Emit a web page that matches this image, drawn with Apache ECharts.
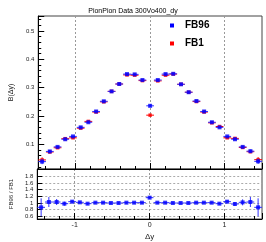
<!DOCTYPE html>
<html>
<head>
<meta charset="utf-8">
<script src="https://cdn.jsdelivr.net/npm/echarts@6/dist/echarts.min.js"></script>
<style>
html,body{margin:0;padding:0;background:#fff;}
#c{width:266px;height:242px;}
</style>
</head>
<body>
<div id="c"></div>
<script>
// Bin centres in Δy (29 bins over [-1.5, 1.5])
var binCenters = [-1.448,-1.345,-1.241,-1.138,-1.034,-0.931,-0.828,-0.724,-0.621,-0.517,-0.414,-0.310,-0.207,-0.103,0.000,
                  0.103,0.207,0.310,0.414,0.517,0.621,0.724,0.828,0.931,1.034,1.138,1.241,1.345,1.448];
var binHalfWidth = 0.0517;

var fb96 = [0.039,0.075,0.091,0.118,0.128,0.160,0.178,0.216,0.252,0.287,0.313,0.348,0.347,0.327,0.236,
            0.327,0.348,0.349,0.312,0.284,0.253,0.216,0.178,0.160,0.128,0.118,0.091,0.076,0.040];
var fb96Err = [0.009,0.005,0.004,0.004,0.003,0.003,0.003,0.003,0.003,0.003,0.003,0.003,0.003,0.003,0.004,
               0.003,0.003,0.003,0.003,0.003,0.003,0.003,0.003,0.003,0.003,0.004,0.004,0.005,0.009];

var fb1 = [0.045,0.073,0.088,0.120,0.123,0.157,0.181,0.214,0.250,0.287,0.313,0.345,0.344,0.325,0.203,
           0.324,0.344,0.348,0.312,0.284,0.251,0.214,0.176,0.163,0.123,0.121,0.089,0.074,0.046];
var fb1Err = [0.009,0.005,0.004,0.004,0.003,0.003,0.003,0.003,0.003,0.003,0.003,0.003,0.003,0.003,0.004,
              0.003,0.003,0.003,0.003,0.003,0.003,0.003,0.003,0.003,0.003,0.004,0.004,0.005,0.009];

var ratio = [0.87,1.03,1.03,0.98,1.04,1.02,0.98,1.01,1.01,1.00,1.00,1.01,1.01,1.01,1.16,
             1.01,1.01,1.00,1.00,1.00,1.01,1.01,1.01,0.98,1.04,0.97,1.02,1.03,0.87];
var ratioErr = [0.27,0.15,0.09,0.06,0.045,0.035,0.03,0.025,0.022,0.02,0.02,0.02,0.02,0.02,0.03,
                0.02,0.02,0.02,0.02,0.02,0.022,0.025,0.03,0.035,0.045,0.06,0.09,0.15,0.27];

var titleText = 'PionPion Data 300Vo400_dy';

function rows(vals, errs){
  return binCenters.map(function(x,i){ return [x, vals[i], errs[i], binHalfWidth]; });
}
function errRender(color){
  return function(params, api){
    var x = api.value(0), y = api.value(1), e = api.value(2), hw = api.value(3);
    var l = api.coord([x - hw, y]), r = api.coord([x + hw, y]);
    var t = api.coord([x, y + e]), b = api.coord([x, y - e]);
    var st = {stroke: color, lineWidth: 1};
    return {type:'group', children:[
      {type:'line', shape:{x1:l[0], y1:l[1], x2:r[0], y2:r[1]}, style:st},
      {type:'line', shape:{x1:t[0], y1:t[1], x2:b[0], y2:b[1]}, style:st}
    ]};
  };
}

var font = 'Liberation Sans, Arial, sans-serif';
var chart = echarts.init(document.getElementById('c'), null, {renderer:'canvas'});

function xAx(idx, showLabels){
  return {
    type:'value', gridIndex: idx, min:-1.5, max:1.5, splitNumber:3,
    axisLine:{show:true, onZero:false, lineStyle:{color:'#000', width:1}},
    axisTick:{show:true, inside:true, length:6, lineStyle:{color:'#000'}},
    minorTick:{show:true, splitNumber:5, length:3, lineStyle:{color:'#000'}},
    splitLine:{show:true, showMinLine:false, showMaxLine:false, lineStyle:{color:'#999', type:[2,2], width:1}},
    axisLabel:{show:showLabels, showMinLabel:false, showMaxLabel:false, fontSize:7, color:'#222', margin:3, fontFamily:font},
    name: showLabels ? 'Δy' : '', nameLocation:'middle', nameGap:14,
    nameTextStyle:{fontSize:8, color:'#222', fontFamily:font}
  };
}

var option = {
  animation:false,
  backgroundColor:'#fff',
  title:{text:titleText, left:'center', top:3, textStyle:{fontSize:7, fontWeight:'normal', color:'#000', fontFamily:font}},
  legend:{
    orient:'vertical', left:170, top:20, padding:0, itemWidth:4, itemHeight:4, itemGap:7,
    icon:'rect', data:['FB96','FB1'],
    textStyle:{fontSize:10, fontWeight:'bold', color:'#000', fontFamily:font, lineHeight:11, padding:[0,0,0,6]}
  },
  grid:[
    {left:26, right:4, top:16, height:153, show:true, borderColor:'#444', borderWidth:1},
    {left:26, right:4, top:169, height:51, show:true, borderColor:'#444', borderWidth:1}
  ],
  xAxis:[ xAx(0,false), xAx(1,true) ],
  yAxis:[
    {type:'value', gridIndex:0, min:0.013, max:0.553, splitNumber:5,
     axisLine:{show:true, onZero:false, lineStyle:{color:'#000'}},
     axisTick:{show:true, inside:true, length:6, lineStyle:{color:'#000'}},
     minorTick:{show:true, splitNumber:5, length:3, lineStyle:{color:'#000'}},
     splitLine:{show:false},
     axisLabel:{showMinLabel:false, showMaxLabel:false, fontSize:6, color:'#222', margin:4, fontFamily:font},
     name:'B(Δy)', nameLocation:'middle', nameGap:15,
     nameTextStyle:{fontSize:7, color:'#222', fontFamily:font}},
    {type:'value', gridIndex:1, min:0.52, max:2.02, splitNumber:7,
     axisLine:{show:true, onZero:false, lineStyle:{color:'#000'}},
     axisTick:{show:true, inside:true, length:5, lineStyle:{color:'#000'}},
     splitLine:{show:true, showMinLine:false, showMaxLine:false, lineStyle:{color:'#aaa', type:[2,2], width:1}},
     axisLabel:{showMinLabel:false, showMaxLabel:false, fontSize:6, color:'#222', margin:4, fontFamily:font,
       formatter:function(v){ return v > 1.9 ? '' : String(+v.toFixed(1)); }},
     name:'FB96 / FB1', nameLocation:'middle', nameGap:15,
     nameTextStyle:{fontSize:6, color:'#222', fontFamily:font}}
  ],
  series:[
    {type:'custom', name:'FB1', xAxisIndex:0, yAxisIndex:0, data:rows(fb1, fb1Err),
     renderItem:errRender('#ff0000'), encode:{x:0, y:1}, itemStyle:{color:'#ff0000'}, z:2},
    {type:'scatter', name:'FB1', xAxisIndex:0, yAxisIndex:0, data:rows(fb1, fb1Err),
     symbol:'rect', symbolSize:3.5, itemStyle:{color:'#ff0000'}, z:3},
    {type:'custom', name:'FB96', xAxisIndex:0, yAxisIndex:0, data:rows(fb96, fb96Err),
     renderItem:errRender('#3030ff'), encode:{x:0, y:1}, itemStyle:{color:'#0000ff'}, z:4},
    {type:'scatter', name:'FB96', xAxisIndex:0, yAxisIndex:0, data:rows(fb96, fb96Err),
     symbol:'rect', symbolSize:4, itemStyle:{color:'#0000ff'}, z:5},
    {type:'custom', name:'ratio', xAxisIndex:1, yAxisIndex:1, data:rows(ratio, ratioErr),
     renderItem:errRender('#3030ff'), encode:{x:0, y:1}, z:4},
    {type:'scatter', name:'ratio', xAxisIndex:1, yAxisIndex:1, data:rows(ratio, ratioErr),
     symbol:'rect', symbolSize:4, itemStyle:{color:'#0000ff'}, z:5}
  ]
};
chart.setOption(option);
</script>
</body>
</html>
